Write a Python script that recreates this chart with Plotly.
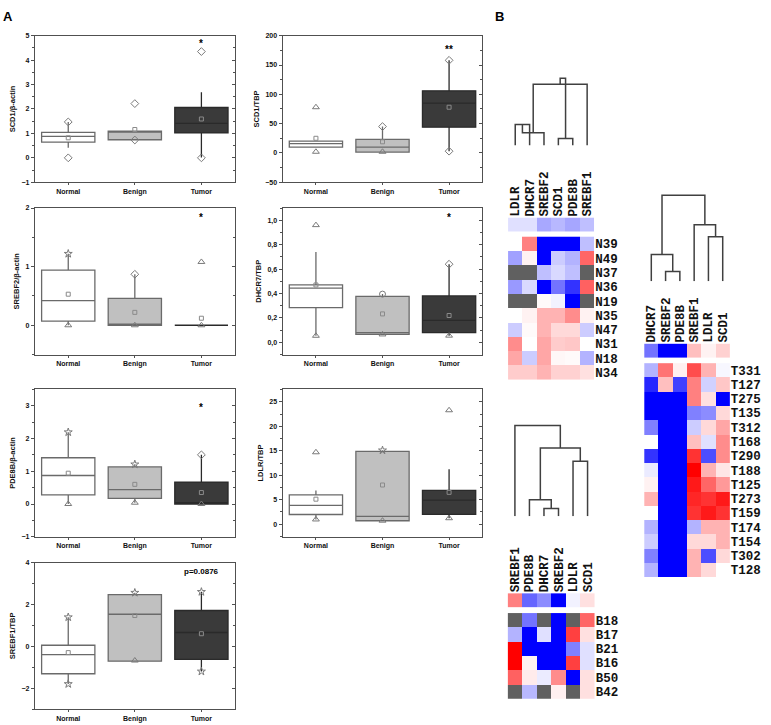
import plotly.graph_objects as go

W, H = 771, 725
GROUPS = ["Normal", "Benign", "Tumor"]

# ---------------- Panel A data (box statistics per group: Normal, Benign, Tumor) ----------------
scd1_actin_q1 = [0.64, 0.74, 1.02]
scd1_actin_med = [0.88, 1.05, 1.41]
scd1_actin_q3 = [1.04, 1.09, 2.06]
scd1_actin_lo = [0.41, 0.74, 0.01]
scd1_actin_hi = [1.47, 1.09, 2.68]
scd1_actin_mean = [0.82, 1.16, 1.59]
scd1_actin_pt_group = [0, 0, 1, 1, 2, 2]
scd1_actin_pt_value = [1.47, 0.0, 2.22, 0.73, 4.35, 0.0]
scd1_actin_pt_kind = ["diamond", "diamond", "diamond", "diamond", "diamond", "diamond"]

scd1_tbp_q1 = [10.0, 1.5, 44.0]
scd1_tbp_med = [16.0, 10.0, 85.0]
scd1_tbp_q3 = [20.0, 23.0, 106.0]
scd1_tbp_lo = [10.0, 1.5, 3.0]
scd1_tbp_hi = [20.0, 45.0, 158.0]
scd1_tbp_mean = [25.0, 19.0, 78.0]
scd1_tbp_pt_group = [0, 0, 1, 1, 2, 2]
scd1_tbp_pt_value = [78.0, 2.0, 45.0, 2.0, 158.0, 3.0]
scd1_tbp_pt_kind = ["triangle", "triangle", "diamond", "triangle", "diamond", "diamond"]

srebf2_actin_q1 = [0.07, 0.0, 0.0]
srebf2_actin_med = [0.42, 0.0, 0.0]
srebf2_actin_q3 = [0.94, 0.46, 0.0]
srebf2_actin_lo = [0.0, 0.0, 0.0]
srebf2_actin_hi = [1.22, 0.87, 0.0]
srebf2_actin_mean = [0.53, 0.22, 0.12]
srebf2_actin_pt_group = [0, 0, 1, 1, 2, 2]
srebf2_actin_pt_value = [1.22, 0.0, 0.87, 0.0, 1.08, 0.0]
srebf2_actin_pt_kind = ["star", "triangle", "diamond", "triangle", "triangle", "triangle"]

dhcr7_tbp_q1 = [0.285, 0.065, 0.08]
dhcr7_tbp_med = [0.444, 0.08, 0.18]
dhcr7_tbp_q3 = [0.47, 0.377, 0.38]
dhcr7_tbp_lo = [0.054, 0.065, 0.055]
dhcr7_tbp_hi = [0.74, 0.395, 0.64]
dhcr7_tbp_mean = [0.47, 0.233, 0.22]
dhcr7_tbp_pt_group = [0, 0, 1, 1, 2, 2]
dhcr7_tbp_pt_value = [0.96, 0.054, 0.395, 0.065, 0.64, 0.055]
dhcr7_tbp_pt_kind = ["triangle", "triangle", "circle", "triangle", "diamond", "triangle"]

pde8b_actin_q1 = [0.28, 0.17, 0.0]
pde8b_actin_med = [0.87, 0.44, 0.04]
pde8b_actin_q3 = [1.41, 1.13, 0.67]
pde8b_actin_lo = [0.0, 0.04, 0.0]
pde8b_actin_hi = [2.19, 1.21, 1.5]
pde8b_actin_mean = [0.94, 0.6, 0.35]
pde8b_actin_pt_group = [0, 0, 1, 1, 2, 2]
pde8b_actin_pt_value = [2.19, 0.0, 1.21, 0.04, 1.5, 0.0]
pde8b_actin_pt_kind = ["star", "triangle", "star", "triangle", "diamond", "triangle"]

ldlr_tbp_q1 = [1.96, 0.68, 2.0]
ldlr_tbp_med = [3.85, 1.6, 4.9]
ldlr_tbp_q3 = [6.0, 14.9, 6.9]
ldlr_tbp_lo = [0.95, 0.68, 1.2]
ldlr_tbp_hi = [6.9, 15.1, 11.2]
ldlr_tbp_mean = [5.1, 8.0, 6.5]
ldlr_tbp_pt_group = [0, 0, 1, 1, 2, 2]
ldlr_tbp_pt_value = [14.7, 0.95, 15.1, 0.7, 23.3, 1.2]
ldlr_tbp_pt_kind = ["triangle", "triangle", "star", "triangle", "triangle", "triangle"]

srebf1_tbp_q1 = [-1.31, -0.71, -0.62]
srebf1_tbp_med = [-0.4, 1.53, 0.66]
srebf1_tbp_q3 = [0.05, 2.47, 1.71]
srebf1_tbp_lo = [-1.8, -0.71, -1.2]
srebf1_tbp_hi = [1.39, 2.56, 2.6]
srebf1_tbp_mean = [-0.3, 1.47, 0.6]
srebf1_tbp_pt_group = [0, 0, 1, 1, 2, 2]
srebf1_tbp_pt_value = [1.39, -1.8, 2.56, -0.68, 2.6, -1.2]
srebf1_tbp_pt_kind = ["star", "star", "star", "triangle", "star", "star"]

# ---------------- Panel B data (heat maps, -1 = blue, 0 = white, 1 = red, None = grey) ----------------
normal_cols = ["LDLR", "DHCR7", "SREBF2", "SCD1", "PDE8B", "SREBF1"]
normal_rows = ["N39", "N49", "N37", "N36", "N19", "N35", "N47", "N31", "N18", "N34"]
normal_summary = [-0.12, -0.12, -0.34, -0.28, -0.35, -0.25]
normal_values = [
    [0.0, 0.5, -1.0, -1.0, -1.0, -0.25],
    [-0.37, 0.05, -1.0, -0.2, -0.3, 0.6],
    [None, None, -0.25, -0.15, -0.25, None],
    [-0.4, -0.15, -1.0, -0.55, -0.8, 0.62],
    [None, None, 0.02, -0.05, -1.0, None],
    [0.0, 0.05, 0.3, 0.3, 0.45, 0.05],
    [-0.2, 0.02, 0.3, 0.15, 0.15, -0.2],
    [0.45, 0.0, 0.35, 0.2, 0.22, 0.0],
    [0.35, -0.2, 0.35, 0.03, 0.02, -0.3],
    [0.2, 0.2, 0.3, 0.18, 0.18, 0.12],
]
normal_link_a = [3, 0, 2, 8, 6]
normal_link_b = [4, 1, 7, 5, 9]
normal_link_h = [7.3, 21.3, 13.0, 62.0, 68.0]

tumor_cols = ["DHCR7", "SREBF2", "PDE8B", "SREBF1", "LDLR", "SCD1"]
tumor_rows = ["T331", "T127", "T275", "T135", "T312", "T168", "T290", "T188",
              "T125", "T273", "T159", "T174", "T154", "T302", "T128"]
tumor_summary = [-0.55, -1.0, -1.0, 0.25, 0.05, 0.18]
tumor_values = [
    [-0.3, 0.55, 0.06, 0.7, 0.3, -0.03],
    [-0.85, 0.25, -0.75, 0.5, -0.18, 0.22],
    [-1.0, -1.0, -1.0, 0.5, 0.12, -1.0],
    [-1.0, -1.0, -1.0, -0.5, -0.45, 0.15],
    [-0.5, -1.0, -1.0, -0.2, 0.15, 0.35],
    [0.0, -1.0, -1.0, 0.25, -0.12, 0.45],
    [-0.8, -1.0, -1.0, 0.8, -0.7, 0.45],
    [-0.08, -1.0, -1.0, 1.0, 0.3, 0.1],
    [0.05, -1.0, -1.0, 0.9, 0.6, 0.4],
    [0.3, -1.0, -1.0, 0.85, 0.8, 0.9],
    [0.0, -1.0, -1.0, 0.8, 0.9, 0.8],
    [-0.3, -1.0, -1.0, -0.3, 0.3, 0.3],
    [-0.2, -1.0, -1.0, 0.15, 0.15, 0.3],
    [-0.5, -1.0, -1.0, 0.3, -0.7, 0.15],
    [-0.3, -1.0, -1.0, 0.3, 0.15, 0.0],
]
tumor_link_a = [1, 0, 4, 3, 7]
tumor_link_b = [2, 6, 5, 8, 9]
tumor_link_h = [10.0, 27.0, 45.0, 57.0, 87.0]

benign_cols = ["SREBF1", "PDE8B", "DHCR7", "SREBF2", "LDLR", "SCD1"]
benign_rows = ["B18", "B17", "B21", "B16", "B50", "B42"]
benign_summary = [0.5, -0.6, -0.45, -1.0, -0.05, 0.12]
benign_values = [
    [None, -0.55, None, -1.0, None, 0.6],
    [-0.3, -1.0, -0.12, -1.0, 0.75, 0.12],
    [1.0, -1.0, -1.0, -1.0, -0.5, -0.12],
    [1.0, 0.05, -1.0, -1.0, 0.75, -0.12],
    [0.62, 0.08, -0.08, 0.45, -1.0, 0.12],
    [None, -0.28, None, 0.06, None, 0.12],
]
benign_link_a = [2, 1, 4, 7, 0]
benign_link_b = [3, 6, 5, 8, 9]
benign_link_h = [8.0, 16.6, 55.6, 69.0, 91.6]

# ---------------- styling ----------------
AX = "#505050"
FILLS = ["#ffffff", "#c0c0c0", "#3a3a3a"]
LINES = ["#6a6a6a", "#6a6a6a", "#2a2a2a"]
SYMBOLS = {"diamond": "diamond-open", "triangle": "triangle-up-open",
           "star": "star-open", "circle": "circle-open"}
SANS = "Liberation Sans"
MONO = "Liberation Mono"
TICKFONT = dict(family=SANS, size=7, color="#111", weight="bold")

fig = go.Figure()
layout = {}


def names(n):
    s = "" if n == 1 else str(n)
    return "x" + s, "y" + s, "xaxis" + s, "yaxis" + s


def box_panel(n, rect, ylabel, yrange, dtick, minor, stats, pts, note=None, note_y=None,
              tickvals=None, ticktext=None):
    x0, y0, x1, y1 = rect
    xa, ya, xk, yk = names(n)
    q1, med, q3, lo, hi, mean = stats
    for g in range(3):
        fig.add_trace(go.Box(
            x=[g], q1=[q1[g]], median=[med[g]], q3=[q3[g]],
            lowerfence=[lo[g]], upperfence=[hi[g]], width=0.8,
            fillcolor=FILLS[g], line=dict(color=LINES[g], width=1.3),
            whiskerwidth=0, boxpoints=False, hoverinfo="skip", showlegend=False,
            xaxis=xa, yaxis=ya))
    pg, pv, pk = pts
    fig.add_trace(go.Scatter(
        x=pg, y=pv, mode="markers", xaxis=xa, yaxis=ya, showlegend=False, hoverinfo="skip",
        marker=dict(symbol=[SYMBOLS[k] for k in pk], size=6, color="#7a7a7a",
                    line=dict(width=1, color="#7a7a7a"))))
    fig.add_trace(go.Scatter(
        x=[0, 1, 2], y=mean, mode="markers", xaxis=xa, yaxis=ya, showlegend=False,
        hoverinfo="skip",
        marker=dict(symbol="square-open", size=4, color="#8a8a8a",
                    line=dict(width=1, color="#8a8a8a"))))
    layout[xk] = dict(domain=[x0 / W, x1 / W], range=[-0.5, 2.5], anchor=ya,
                      tickvals=[0, 1, 2], ticktext=GROUPS, showline=True, mirror=True,
                      linecolor=AX, linewidth=1.2, ticks="outside", ticklen=2,
                      tickcolor=AX, tickfont=TICKFONT, showgrid=False, zeroline=False)
    ydict = dict(domain=[1 - y1 / H, 1 - y0 / H], range=yrange, anchor=xa,
                 showline=True, mirror=True, linecolor=AX, linewidth=1.2,
                 ticks="outside", ticklen=3, tickcolor=AX, tickfont=TICKFONT,
                 showgrid=False, zeroline=False,
                 minor=dict(dtick=minor, ticks="outside", ticklen=2, tickcolor=AX),
                 title=dict(text=ylabel, standoff=4,
                            font=dict(family=SANS, size=7.5, color="#111", weight="bold")))
    if tickvals is not None:
        ydict.update(tickvals=tickvals, ticktext=ticktext)
    else:
        ydict.update(dtick=dtick, tick0=0)
    layout[yk] = ydict
    # right-hand frame ticks pointing inwards
    m = n + 20
    _, ya2, _, yk2 = names(m)
    fig.add_trace(go.Scatter(x=[0], y=[yrange[0]], mode="markers", marker=dict(opacity=0),
                             xaxis=xa, yaxis=ya2, showlegend=False, hoverinfo="skip"))
    rdict = dict(overlaying=ya, side="right", anchor=xa, range=yrange, showticklabels=False,
                 ticks="inside", ticklen=3, tickcolor=AX, showgrid=False, zeroline=False,
                 showline=False,
                 minor=dict(dtick=minor, ticks="inside", ticklen=2, tickcolor=AX))
    if tickvals is not None:
        rdict.update(tickvals=tickvals)
    else:
        rdict.update(dtick=dtick, tick0=0)
    layout[yk2] = rdict
    if note:
        fig.add_annotation(x=2, y=note_y, xref=xa, yref=ya, text=note, showarrow=False,
                           font=dict(family=SANS, size=8 if note.startswith("p") else 10,
                                     color="#000", weight="bold"))


box_panel(1, (35, 32, 235, 180), "SCD1/β-actin", [-1, 5], 1, 0.5,
          (scd1_actin_q1, scd1_actin_med, scd1_actin_q3, scd1_actin_lo, scd1_actin_hi, scd1_actin_mean),
          (scd1_actin_pt_group, scd1_actin_pt_value, scd1_actin_pt_kind), "*", 4.7)
box_panel(2, (283, 32, 483, 180), "SCD1/TBP", [-50, 200], 50, 25,
          (scd1_tbp_q1, scd1_tbp_med, scd1_tbp_q3, scd1_tbp_lo, scd1_tbp_hi, scd1_tbp_mean),
          (scd1_tbp_pt_group, scd1_tbp_pt_value, scd1_tbp_pt_kind), "**", 176)
box_panel(3, (35, 206, 235, 354), "SREBF2/β-actin", [-0.5, 2], 1, 0.5,
          (srebf2_actin_q1, srebf2_actin_med, srebf2_actin_q3, srebf2_actin_lo, srebf2_actin_hi, srebf2_actin_mean),
          (srebf2_actin_pt_group, srebf2_actin_pt_value, srebf2_actin_pt_kind), "*", 1.83)
box_panel(4, (283, 206, 483, 354), "DHCR7/TBP", [-0.1, 1.1], 0.2, 0.1,
          (dhcr7_tbp_q1, dhcr7_tbp_med, dhcr7_tbp_q3, dhcr7_tbp_lo, dhcr7_tbp_hi, dhcr7_tbp_mean),
          (dhcr7_tbp_pt_group, dhcr7_tbp_pt_value, dhcr7_tbp_pt_kind), "*", 1.02,
          tickvals=[0, 0.2, 0.4, 0.6, 0.8, 1.0],
          ticktext=["0,0", "0,2", "0,4", "0,6", "0,8", "1,0"])
box_panel(5, (35, 389, 235, 538), "PDE8B/β-actin", [-1, 3.5], 1, 0.5,
          (pde8b_actin_q1, pde8b_actin_med, pde8b_actin_q3, pde8b_actin_lo, pde8b_actin_hi, pde8b_actin_mean),
          (pde8b_actin_pt_group, pde8b_actin_pt_value, pde8b_actin_pt_kind), "*", 2.95)
box_panel(6, (283, 389, 483, 538), "LDLR/TBP", [-2.6, 27.6], 5, 2.5,
          (ldlr_tbp_q1, ldlr_tbp_med, ldlr_tbp_q3, ldlr_tbp_lo, ldlr_tbp_hi, ldlr_tbp_mean),
          (ldlr_tbp_pt_group, ldlr_tbp_pt_value, ldlr_tbp_pt_kind))
box_panel(7, (35, 564, 235, 712), "SREBF1/TBP", [-3, 4], 2, 1,
          (srebf1_tbp_q1, srebf1_tbp_med, srebf1_tbp_q3, srebf1_tbp_lo, srebf1_tbp_hi, srebf1_tbp_mean),
          (srebf1_tbp_pt_group, srebf1_tbp_pt_value, srebf1_tbp_pt_kind), "p=0.0876", 3.55)

# ---------------- heat maps ----------------
CSCALE = [[0, "#0000ff"], [0.5, "#ffffff"], [1, "#ff0000"]]
LABELFONT = dict(family=MONO, size=12.5, color="#111", weight="bold")


def heat_panel(n, left, row_top, cell_w, cell_h, gap, cols, rows, summary, values):
    xa, ya, xk, yk = names(n)
    nr = len(rows)
    g = gap / cell_h
    xedges = list(range(len(cols) + 1))
    fig.add_trace(go.Heatmap(z=values, x=xedges, y=list(range(nr + 1)), colorscale=CSCALE,
                             zmin=-1, zmax=1, showscale=False, hoverinfo="skip",
                             xaxis=xa, yaxis=ya))
    zg = [[(1 if v is None else None) for v in r] for r in values]
    fig.add_trace(go.Heatmap(z=zg, x=xedges, y=list(range(nr + 1)),
                             colorscale=[[0, "#606060"], [1, "#606060"]],
                             showscale=False, hoverinfo="skip", xaxis=xa, yaxis=ya))
    fig.add_trace(go.Heatmap(z=[summary], x=xedges, y=[-1 - g, -g], colorscale=CSCALE,
                             zmin=-1, zmax=1, showscale=False, hoverinfo="skip",
                             xaxis=xa, yaxis=ya))
    top_px = row_top - gap - cell_h
    bot_px = row_top + nr * cell_h
    layout[xk] = dict(domain=[left / W, (left + len(cols) * cell_w) / W], range=[0, len(cols)],
                      anchor=ya, side="top", tickvals=[i + 0.5 for i in range(len(cols))],
                      ticktext=cols, tickangle=-90, ticks="", tickfont=LABELFONT,
                      showgrid=False, zeroline=False, showline=False)
    layout[yk] = dict(domain=[1 - bot_px / H, 1 - top_px / H], range=[nr, -1 - g], anchor=xa,
                      side="right", tickvals=[i + 0.5 for i in range(nr)], ticktext=rows,
                      ticks="", tickfont=LABELFONT, showgrid=False, zeroline=False,
                      showline=False)


def dendro_panel(n, left, cell_w, ncols, leaf_px, top_px, link_a, link_b, link_h):
    xa, ya, xk, yk = names(n)
    pos = {i: i + 0.5 for i in range(ncols)}
    hgt = {i: 0.0 for i in range(ncols)}
    xs, ys = [], []
    for k, (a, b, h) in enumerate(zip(link_a, link_b, link_h)):
        node = ncols + k
        xs += [pos[a], pos[a], pos[b], pos[b], None]
        ys += [hgt[a], h, h, hgt[b], None]
        pos[node] = (pos[a] + pos[b]) / 2
        hgt[node] = h
    fig.add_trace(go.Scatter(x=xs, y=ys, mode="lines", line=dict(color="#404040", width=1.5),
                             showlegend=False, hoverinfo="skip", xaxis=xa, yaxis=ya))
    span = leaf_px - top_px
    layout[xk] = dict(domain=[left / W, (left + ncols * cell_w) / W], range=[0, ncols],
                      anchor=ya, visible=False)
    layout[yk] = dict(domain=[1 - leaf_px / H, 1 - top_px / H], range=[0, span],
                      anchor=xa, visible=False)


heat_panel(8, 508.7, 235.0, 14.4, 14.45, 5.0, normal_cols, normal_rows, normal_summary, normal_values)
heat_panel(9, 645.0, 362.7, 14.3, 14.4, 5.4, tumor_cols, tumor_rows, tumor_summary, tumor_values)
heat_panel(10, 508.3, 615.0, 14.55, 14.4, 5.7, benign_cols, benign_rows, benign_summary, benign_values)

dendro_panel(11, 508.7, 14.4, 6, 143.0, 73.0, normal_link_a, normal_link_b, normal_link_h)
dendro_panel(12, 645.0, 14.3, 6, 280.0, 190.0, tumor_link_a, tumor_link_b, tumor_link_h)
dendro_panel(13, 508.3, 14.55, 6, 517.3, 424.0, benign_link_a, benign_link_b, benign_link_h)

fig.add_annotation(x=1 / W, y=1 - 3 / H, xref="paper", yref="paper", text="A", showarrow=False,
                   xanchor="left", yanchor="top",
                   font=dict(family=SANS, size=13, color="#000", weight="bold"))
fig.add_annotation(x=494 / W, y=1 - 3 / H, xref="paper", yref="paper", text="B", showarrow=False,
                   xanchor="left", yanchor="top",
                   font=dict(family=SANS, size=13, color="#000", weight="bold"))

fig.update_layout(width=W, height=H, margin=dict(l=0, r=0, t=0, b=0),
                  paper_bgcolor="white", plot_bgcolor="white",
                  font=dict(family=SANS, color="#111"), showlegend=False, **layout)

fig.write_html("out.html", config={"displayModeBar": False},
               post_script="document.body.style.margin='0px';"
                           "document.body.style.overflow='hidden';")
